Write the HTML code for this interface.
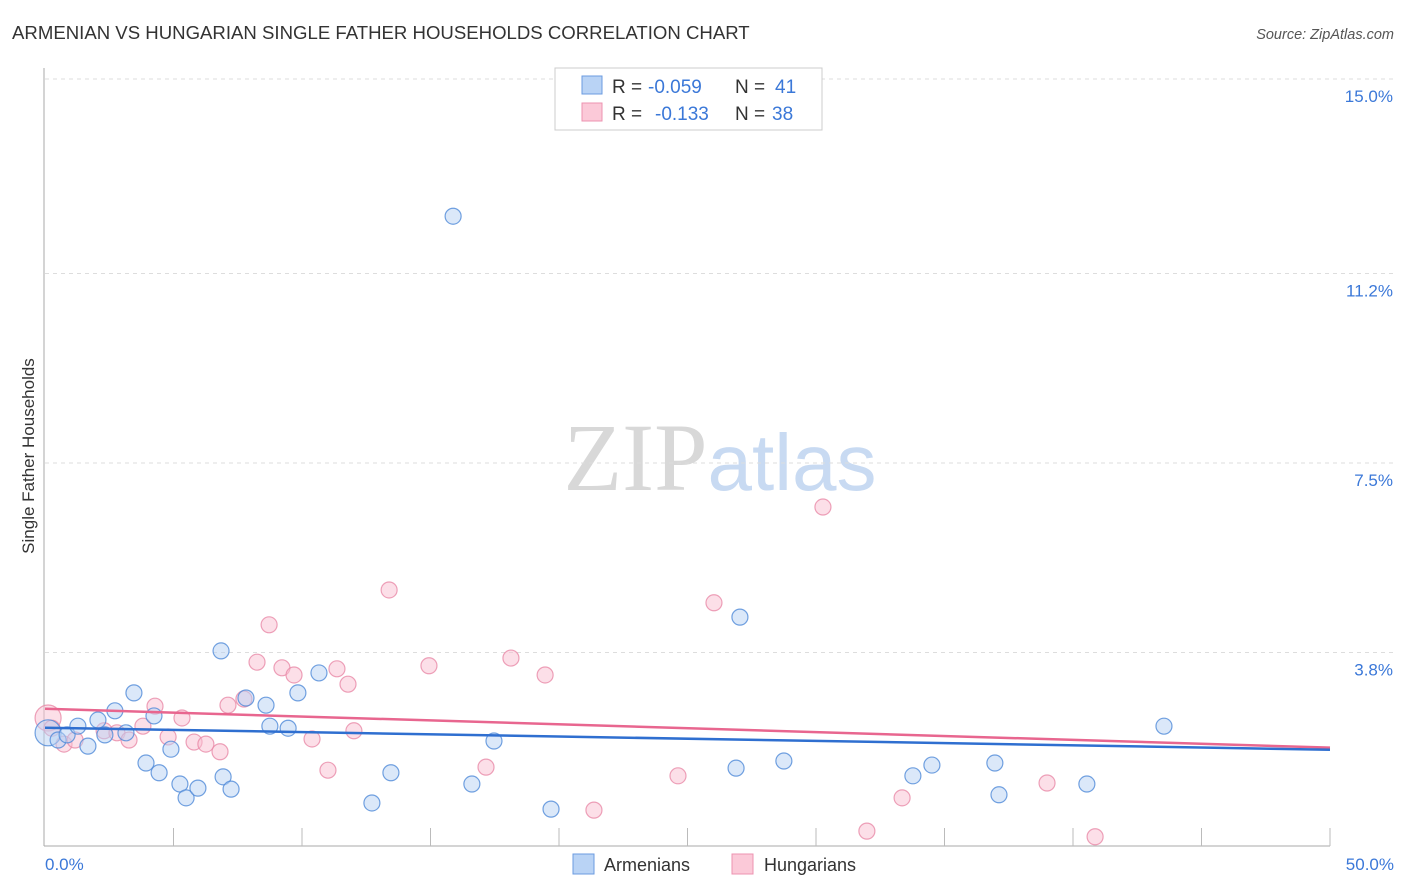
<!DOCTYPE html>
<html><head><meta charset="utf-8"><style>
body{margin:0;background:#fff;font-family:"Liberation Sans",sans-serif}
</style></head><body>
<svg id="chart" width="1406" height="892" xmlns="http://www.w3.org/2000/svg" style="display:block">
<text x="12" y="39" font-size="18.6" fill="#333">ARMENIAN VS HUNGARIAN SINGLE FATHER HOUSEHOLDS CORRELATION CHART</text>
<text x="1394" y="39" font-size="14.5" fill="#555" text-anchor="end" font-style="italic">Source: ZipAtlas.com</text>
<text x="720" y="490" font-size="96" text-anchor="middle" font-family="Liberation Serif,serif"><tspan fill="#d8d8d8">ZIP</tspan><tspan fill="#c8daf2" font-family="Liberation Sans,sans-serif" font-size="80">atlas</tspan></text>
<text transform="translate(34,456) rotate(-90)" font-size="17" fill="#333" text-anchor="middle">Single Father Households</text>
<g id="grid"></g><g id="marks"></g>
<g>
<rect x="555" y="68" width="267" height="62" fill="#fff" stroke="#ccc"/>
<rect x="582" y="76" width="20" height="18" fill="#b9d3f5" stroke="#6b9be0"/>
<rect x="582" y="103" width="20" height="18" fill="#fbc9d8" stroke="#ec93b0"/>
<text x="612" y="93" font-size="19" fill="#333">R =</text>
<text x="648" y="93" font-size="19" fill="#3b78d8">-0.059</text>
<text x="735" y="93" font-size="19" fill="#333">N =</text>
<text x="775" y="93" font-size="19" fill="#3b78d8">41</text>
<text x="612" y="120" font-size="19" fill="#333">R =</text>
<text x="655" y="120" font-size="19" fill="#3b78d8">-0.133</text>
<text x="735" y="120" font-size="19" fill="#333">N =</text>
<text x="772" y="120" font-size="19" fill="#3b78d8">38</text>
</g>
<g>
<rect x="573" y="854" width="21" height="20" fill="#b9d3f5" stroke="#6b9be0"/>
<text x="604" y="871" font-size="18" fill="#333">Armenians</text>
<rect x="732" y="854" width="21" height="20" fill="#fbc9d8" stroke="#ec93b0"/>
<text x="764" y="871" font-size="18" fill="#333">Hungarians</text>
</g>
</svg>
<script>
const yTicks=[3.8,7.5,11.2,15.0];
const yTickLabels=["3.8%","7.5%","11.2%","15.0%"];
const xLabels=["0.0%","50.0%"];
const armX=[0.12,0.51,0.86,1.28,1.67,2.06,2.33,2.72,3.15,3.46,3.93,4.24,4.44,4.90,5.25,5.49,5.95,6.85,6.93,7.24,7.82,8.60,8.75,9.46,9.84,10.66,12.72,13.46,15.88,16.61,17.47,19.69,26.89,27.04,28.75,33.77,34.51,36.96,37.12,40.54,43.54];
const armY=[2.23,2.09,2.19,2.36,1.97,2.48,2.19,2.66,2.23,3.01,1.64,2.56,1.45,1.91,1.23,0.96,1.15,3.83,1.37,1.13,2.91,2.77,2.36,2.32,3.01,3.40,0.86,1.45,12.32,1.23,2.07,0.74,1.54,4.49,1.68,1.39,1.60,1.64,1.02,1.23,2.36];
const hunX=[0.12,0.27,0.74,1.17,2.30,2.80,3.27,3.81,4.28,4.79,5.33,5.80,6.26,6.81,7.12,7.74,8.25,8.72,9.22,9.69,10.39,11.01,11.36,11.79,12.02,13.39,14.94,17.16,18.13,19.46,21.36,24.63,26.03,30.27,31.98,33.35,38.99,40.86];
const hunY=[2.52,2.32,2.01,2.09,2.27,2.23,2.09,2.36,2.75,2.15,2.52,2.05,2.01,1.86,2.77,2.89,3.61,4.34,3.50,3.36,2.11,1.50,3.48,3.18,2.27,5.02,3.54,1.56,3.69,3.36,0.72,1.39,4.77,6.64,0.31,0.96,1.25,0.20];
const armTrend=[2.33,1.90];
const hunTrend=[2.70,1.94];
const NS="http://www.w3.org/2000/svg";
const sx=v=>45+v/50*1285;
const sy=v=>655-(v-3.75)*51.2;
function mk(t,a,p){const e=document.createElementNS(NS,t);for(const k in a)e.setAttribute(k,a[k]);p.appendChild(e);return e;}
const grid=document.getElementById('grid'),marks=document.getElementById('marks');
yTicks.forEach((v,i)=>{
 const l=mk('line',{x1:45,x2:1394,y1:sy(v),y2:sy(v),stroke:'#ddd','stroke-dasharray':'4,4'},grid);
 
 
 const t=mk('text',{x:1393,y:sy(v)+23,'font-size':17,fill:'#3b78d8','text-anchor':'end'},grid);
 t.textContent=yTickLabels[i];
 
 
});
const topGrid=mk('line',{x1:45,x2:1394,y1:79,y2:79,stroke:'#ddd','stroke-dasharray':'4,4'},grid);


const ya=mk('line',{x1:44,x2:44,y1:68,y2:846,stroke:'#aaa'},grid);


const xa=mk('line',{x1:44,x2:1330,y1:846,y2:846,stroke:'#aaa'},grid);


for(let i=1;i<=10;i++){const x=sx(i*5);const tk=mk('line',{x1:x,x2:x,y1:828,y2:846,stroke:'#bbb'},grid);
 
 }
[0,50].forEach((v,i)=>{const t=mk('text',{x:i?1394:45,y:870,'font-size':17,fill:'#3b78d8','text-anchor':i?'end':'start'},grid);t.textContent=xLabels[i];
 
 });
function pts(X,Y,fill,stroke,name){X.forEach((x,i)=>{const c=mk('circle',{cx:sx(x),cy:sy(Y[i]),r:i===0?13:8,fill:fill,'fill-opacity':0.5,stroke:stroke,'stroke-opacity':0.8,'stroke-width':1.2},marks);
 
 });}
pts(hunX,hunY,'#f9c0d2','#e889a8','hungarian-point');
pts(armX,armY,'#b7d1f4','#4f8ad8','armenian-point');
const tl1=mk('line',{x1:sx(0),x2:sx(50),y1:sy(hunTrend[0]),y2:sy(hunTrend[1]),stroke:'#e8668f','stroke-width':2.5},marks);


const tl2=mk('line',{x1:sx(0),x2:sx(50),y1:sy(armTrend[0]),y2:sy(armTrend[1]),stroke:'#2f6fd0','stroke-width':2.5},marks);


</script>
</body></html>
